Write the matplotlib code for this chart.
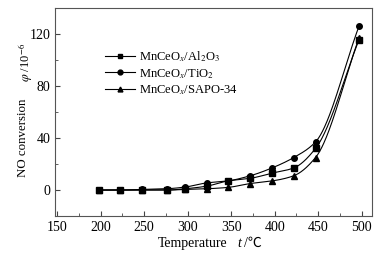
import numpy as np
import matplotlib
matplotlib.use("Agg")
import matplotlib.pyplot as plt
from matplotlib.ticker import MultipleLocator

plt.rcParams['font.family'] = ['Liberation Serif', 'Noto Sans CJK SC', 'DejaVu Serif']
plt.rcParams['mathtext.fontset'] = 'stix'

# data
temp = [198, 222, 247, 276, 297, 322, 346, 372, 397, 422, 447, 497]
al2o3 = [0, 0, 0, 0, 1, 3, 7, 9, 13, 17, 32, 115.5]
tio2 = [0, 0, 0.5, 1, 2.3, 5.5, 7, 11, 17, 25, 37, 126]
sapo = [0, 0, 0, 0, 0.5, 1, 2, 5, 7, 11, 25, 117]

labels = ['MnCeO$_x$/Al$_2$O$_3$', 'MnCeO$_x$/TiO$_2$', 'MnCeO$_x$/SAPO-34']
markers = ['s', 'o', '^']


def smooth(x, y, n=400):
    # monotone cubic (pchip-like) curve through the points, for the drawn line
    x = np.asarray(x, float)
    y = np.asarray(y, float)
    h = np.diff(x)
    d = np.diff(y) / h
    m = np.zeros_like(y)
    for i in range(1, len(x) - 1):
        if d[i - 1] * d[i] > 0:
            w1 = 2 * h[i] + h[i - 1]
            w2 = h[i] + 2 * h[i - 1]
            m[i] = (w1 + w2) / (w1 / d[i - 1] + w2 / d[i])
    m[0] = d[0]
    m[-1] = d[-1]
    xs = np.linspace(x[0], x[-1], n)
    idx = np.clip(np.searchsorted(x, xs) - 1, 0, len(x) - 2)
    t = (xs - x[idx]) / h[idx]
    h00 = 2 * t**3 - 3 * t**2 + 1
    h10 = t**3 - 2 * t**2 + t
    h01 = -2 * t**3 + 3 * t**2
    h11 = t**3 - t**2
    ys = h00 * y[idx] + h10 * h[idx] * m[idx] + h01 * y[idx + 1] + h11 * h[idx] * m[idx + 1]
    return xs, ys


fig = plt.figure(figsize=(3.82, 2.56), dpi=100)
ax = fig.add_axes([0.144, 0.156, 0.830, 0.813])

for ys, lab, mk in zip([al2o3, tio2, sapo], labels, markers):
    xs, yy = smooth(temp, ys)
    ax.plot(xs, yy, color='k', lw=0.8)
    ax.plot(temp, ys, ls='none', marker=mk, ms=4, color='k')
    # legend proxy
    ax.plot([], [], color='k', lw=0.8, marker=mk, ms=3.5, label=lab)

ax.set_xlim(147.5, 512)
ax.set_ylim(-20, 140)
ax.xaxis.set_major_locator(MultipleLocator(50))
ax.xaxis.set_minor_locator(MultipleLocator(25))
ax.yaxis.set_major_locator(MultipleLocator(40))
ax.yaxis.set_minor_locator(MultipleLocator(20))
ax.tick_params(which='both', direction='in', labelsize=10, color='#444')
ax.tick_params(which='major', length=3.5)
ax.tick_params(which='minor', length=2)
for s in ax.spines.values():
    s.set_color('#555')
    s.set_linewidth(0.8)

# axis titles, built from pieces so the italic symbol and the degree sign both render
fig.text(0.595, 0.05, 'Temperature', fontsize=10, ha='right', va='center')
fig.text(0.622, 0.05, 't', fontsize=10, ha='left', va='center', style='italic')
fig.text(0.640, 0.05, '/\u2103', fontsize=10, ha='left', va='center')
fig.text(0.060, 0.46, 'NO conversion', fontsize=9.3, rotation=90, ha='center', va='center')
fig.text(0.068, 0.755, '$\\varphi$ /10$^{-6}$', fontsize=9, rotation=90, ha='center', va='center')

ax.legend(loc='upper left', bbox_to_anchor=(0.158, 0.80), frameon=False,
          fontsize=9, handlelength=2.4, handletextpad=0.32, labelspacing=0.2,
          borderaxespad=0, borderpad=0)

fig.savefig('out.png', dpi=100)
